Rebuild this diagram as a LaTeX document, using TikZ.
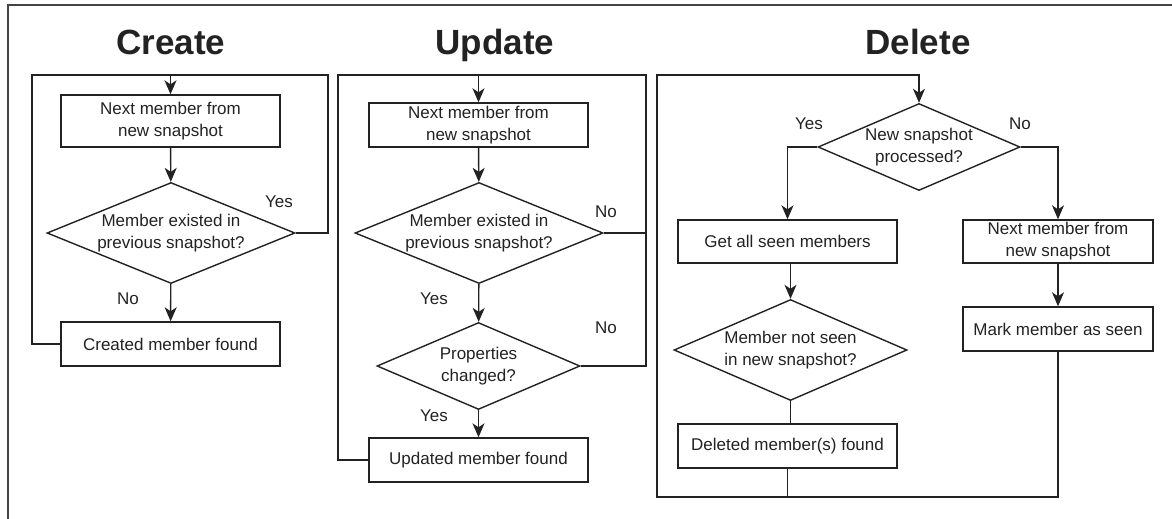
\documentclass[tikz,border=0pt]{standalone}
\usepackage{fontspec}
\setmainfont{Liberation Sans}
\usetikzlibrary{shapes.geometric,arrows.meta}
\definecolor{ink}{HTML}{222222}
\definecolor{framec}{HTML}{444444}
\tikzset{
  every node/.style={font=\fontsize{17}{22}\selectfont, text=ink},
  boxn/.style={draw=ink, line width=1.4pt, rectangle, inner sep=0pt, align=center},
  dia/.style={draw=ink, line width=1.4pt, diamond, inner sep=0pt, align=center},
  ttl/.style={font=\fontsize{35}{40}\bfseries\selectfont, text=ink, anchor=base, inner sep=0pt},
  lbl/.style={inner sep=0pt},
  link/.style={draw=ink, line width=1.4pt},
  arr/.style={link, -{Stealth[length=14pt,width=12pt,inset=4pt]}},
  frm/.style={draw=framec, line width=2pt}
}
\begin{document}
\begin{tikzpicture}[x=1pt,y=-1pt]
\useasboundingbox (0,0) rectangle (1172,519);
\draw[frm] (8,519) -- (8,5) -- (1172,5);

% ---------- Create ----------
\node[ttl] (tc) at (171,55) {Create};
\node[boxn, minimum width=219pt, minimum height=52pt] (c1) at (170.5,121) {Next member from\\new snapshot};
\node[dia, shape aspect=2.46, minimum width=248pt, minimum height=101pt] (cd) at (171,233) {Member existed in\\previous snapshot?};
\node[boxn, minimum width=219pt, minimum height=44pt] (c2) at (170.5,344) {Created member found};
\coordinate (ctl) at (32,75);
\coordinate (ctr) at (328,75);
\draw[arr] (c1) -- (cd);
\draw[arr] (cd) -- (c2);
\draw[arr] (cd.east) -| (ctr) -| (c1.north);
\draw[link] (c2.west) -| (ctl) -- (c1.north |- ctl);
\node[lbl] (cy) at (279,202) {Yes};
\node[lbl] (cn) at (128,299) {No};

% ---------- Update ----------
\node[ttl] (tu) at (495,55) {Update};
\node[boxn, minimum width=219pt, minimum height=44pt] (u1) at (478.5,125) {Next member from\\new snapshot};
\node[dia, shape aspect=2.46, minimum width=248pt, minimum height=101pt] (ud1) at (479,233) {Member existed in\\previous snapshot?};
\node[dia, shape aspect=2.33, minimum width=203pt, minimum height=87pt] (ud2) at (478.5,366) {Properties\\changed?};
\node[boxn, minimum width=219pt, minimum height=44pt] (u2) at (478.5,460) {Updated member found};
\coordinate (utl) at (338,75);
\coordinate (utr) at (646,75);
\draw[arr] (u1) -- (ud1);
\draw[arr] (ud1) -- (ud2);
\draw[arr] (ud2) -- (u2);
\draw[arr] (ud2.east) -| (utr) -| (u1.north);
\draw[link] (ud1.east) -- (ud1.east -| utr);
\draw[link] (u2.west) -| (utl) -- (u1.north |- utl);
\node[lbl] (uy1) at (434,299) {Yes};
\node[lbl] (un1) at (606,212) {No};
\node[lbl] (uy2) at (434,416) {Yes};
\node[lbl] (un2) at (606,328) {No};

% ---------- Delete ----------
\node[ttl] (td) at (918,55) {Delete};
\node[dia, shape aspect=2.32, minimum width=202pt, minimum height=87pt] (dd) at (919,147) {New snapshot\\processed?};
\node[boxn, minimum width=219pt, minimum height=43pt] (d1) at (787.5,241.5) {Get all seen members};
\node[dia, shape aspect=2.31, minimum width=233pt, minimum height=101pt] (dd2) at (790.5,350) {Member not seen\\in new snapshot?};
\node[boxn, minimum width=219pt, minimum height=44pt] (d2) at (787.5,446) {Deleted member(s) found};
\node[boxn, minimum width=190pt, minimum height=43pt] (d3) at (1058,241.5) {Next member from\\new snapshot};
\node[boxn, minimum width=190pt, minimum height=44pt] (d4) at (1058,329) {Mark member as seen};
\coordinate (dtl) at (657,75);
\coordinate (dbl) at (657,497);
\draw[arr] (dd.west) -| (d1.north);
\draw[arr] (dd.east) -| (d3.north);
\draw[arr] (d1.south -| dd2.north) -- (dd2.north);
\draw[link] (dd2.south) -- (dd2.south |- d2.north);
\draw[arr] (d3) -- (d4);
\draw[link] (d2.south) -- (d2.south |- dbl);
\draw[arr] (d4.south) |- (dbl) -- (dtl) -| (dd.north);
\node[lbl] (dy) at (809,124) {Yes};
\node[lbl] (dn) at (1020,124) {No};
\end{tikzpicture}
\end{document}
